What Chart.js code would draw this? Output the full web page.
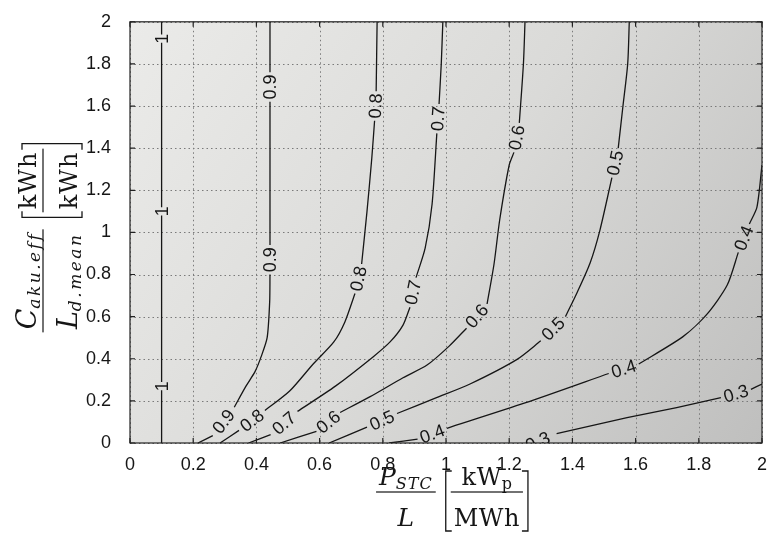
<!DOCTYPE html>
<html>
<head>
<meta charset="utf-8">
<script src="https://cdn.jsdelivr.net/npm/chart.js@4.4.0/dist/chart.umd.min.js"></script>
<style>
html, body { margin: 0; padding: 0; background: #fff; }
</style>
</head>
<body>
<canvas id="contourChart" width="777" height="548"></canvas>
<script>
// contour levels, same order as the point lists below
const levels = ['1', '0.9', '0.8', '0.7', '0.6', '0.5', '0.4', '0.3'];

// points [x, y], bottom to top.
// null = gap in the line where the level label is written
const c10 = [[0.1, 0], [0.1, 0.25], null, [0.1, 0.29], [0.1, 1.08], null, [0.1, 1.12], [0.1, 1.9], null, [0.1, 1.94], [0.1, 2]];
const c09 = [[0.215, 0], [0.262, 0.035], null, [0.33, 0.17], [0.367, 0.27], [0.396, 0.34], [0.415, 0.41], [0.434, 0.5], [0.442, 0.67], [0.443, 0.8], null, [0.443, 0.94], [0.443, 1.62], null, [0.443, 1.76], [0.443, 2]];
const c08 = [[0.285, 0], [0.345, 0.06], null, [0.427, 0.154], [0.506, 0.248], [0.579, 0.374], [0.645, 0.48], [0.68, 0.575], [0.712, 0.71], null, [0.733, 0.85], [0.75, 1.1], [0.765, 1.35], [0.774, 1.53], null, [0.779, 1.67], [0.782, 2]];
const c07 = [[0.375, 0], [0.445, 0.04], null, [0.53, 0.15], [0.65, 0.27], [0.77, 0.41], [0.823, 0.48], [0.864, 0.56], [0.886, 0.645], null, [0.905, 0.785], [0.934, 0.925], [0.956, 1.135], [0.971, 1.47], null, [0.978, 1.61], [0.985, 1.8], [0.99, 2]];
const c06 = [[0.475, 0], [0.59, 0.055], null, [0.665, 0.145], [0.76, 0.22], [0.864, 0.31], [0.94, 0.37], [1.01, 0.46], [1.065, 0.545], null, [1.13, 0.66], [1.152, 0.85], [1.17, 1.06], [1.2, 1.32], [1.215, 1.38], null, [1.232, 1.52], [1.245, 1.8], [1.25, 2]];
const c05 = [[0.63, 0], [0.75, 0.075], null, [0.845, 0.14], [0.97, 0.215], [1.076, 0.28], [1.225, 0.397], [1.3, 0.485], null, [1.378, 0.6], [1.415, 0.715], [1.456, 0.855], [1.487, 1.01], [1.525, 1.26], null, [1.545, 1.4], [1.56, 1.6], [1.575, 1.8], [1.58, 2]];
const c04 = [[0.82, 0], [0.91, 0.018], null, [1.003, 0.07], [1.25, 0.19], [1.515, 0.33], null, [1.61, 0.375], [1.75, 0.505], [1.826, 0.612], [1.89, 0.75], [1.925, 0.905], null, [1.96, 1.04], [1.984, 1.12], [2.0, 1.32]];
const c03 = [[1.23, -0.03], null, [1.35, 0.045], [1.573, 0.12], [1.73, 0.168], [1.87, 0.215], null, [1.965, 0.255], [2.0, 0.28]];
const contours = [c10, c09, c08, c07, c06, c05, c04, c03];

const xTickLabels = ['0', '0.2', '0.4', '0.6', '0.8', '1', '1.2', '1.4', '1.6', '1.8', '2'];
const yTickLabels = ['0', '0.2', '0.4', '0.6', '0.8', '1', '1.2', '1.4', '1.6', '1.8', '2'];

const ink = '#161616';
const tickFont = { family: '"Liberation Sans", Arial, sans-serif', size: 18 };

// background of the plot, grid and frame
const frame = {
    id: 'frame',
    beforeDraw(chart) {
        const { ctx, chartArea: a } = chart;
        ctx.save();
        ctx.fillStyle = '#fff';
        ctx.fillRect(0, 0, chart.width, chart.height);
        const g = ctx.createLinearGradient(a.left, a.top, a.right, a.bottom);
        g.addColorStop(0, '#ebebe9');
        g.addColorStop(0.5, '#dadad8');
        g.addColorStop(1, '#bfbfbe');
        ctx.fillStyle = g;
        ctx.fillRect(a.left, a.top, a.right - a.left, a.bottom - a.top);
        ctx.restore();
    },
    beforeDatasetsDraw(chart) {
        const { ctx, chartArea: a, scales: { x, y } } = chart;
        ctx.save();
        ctx.strokeStyle = '#7a7a7a';
        ctx.lineWidth = 1;
        ctx.setLineDash([1.5, 3]);
        ctx.beginPath();
        x.ticks.forEach(t => {
            const px = Math.round(x.getPixelForValue(t.value)) + 0.5;
            ctx.moveTo(px, a.top); ctx.lineTo(px, a.bottom);
        });
        y.ticks.forEach(t => {
            const py = Math.round(y.getPixelForValue(t.value)) + 0.5;
            ctx.moveTo(a.left, py); ctx.lineTo(a.right, py);
        });
        ctx.stroke();
        ctx.restore();
    },
    afterDatasetsDraw(chart) {
        const { ctx, chartArea: a, scales: { x, y } } = chart;
        ctx.save();
        ctx.strokeStyle = '#222';
        ctx.lineWidth = 1.2;
        ctx.strokeRect(a.left, a.top, a.right - a.left, a.bottom - a.top);
        ctx.beginPath();
        x.ticks.forEach(t => {
            const px = x.getPixelForValue(t.value);
            ctx.moveTo(px, a.bottom); ctx.lineTo(px, a.bottom - 5);
            ctx.moveTo(px, a.top); ctx.lineTo(px, a.top + 5);
        });
        y.ticks.forEach(t => {
            const py = y.getPixelForValue(t.value);
            ctx.moveTo(a.left, py); ctx.lineTo(a.left + 5, py);
            ctx.moveTo(a.right, py); ctx.lineTo(a.right - 5, py);
        });
        ctx.stroke();

        // level labels, placed in the gaps and turned along the line
        ctx.beginPath();
        ctx.rect(a.left, a.top, a.right - a.left, a.bottom - a.top);
        ctx.clip();
        ctx.font = '18px "Liberation Sans", Arial, sans-serif';
        ctx.fillStyle = ink;
        ctx.textAlign = 'center';
        ctx.textBaseline = 'middle';
        contours.forEach((pts, k) => {
            pts.forEach((p, i) => {
                if (p !== null || i === 0 || i === pts.length - 1) return;
                const p0 = pts[i - 1], p1 = pts[i + 1];
                const ax = x.getPixelForValue(p0[0]), ay = y.getPixelForValue(p0[1]);
                const bx = x.getPixelForValue(p1[0]), by = y.getPixelForValue(p1[1]);
                let ang = Math.atan2(by - ay, bx - ax);
                if (ang > Math.PI / 2) ang -= Math.PI;
                if (ang < -Math.PI / 2) ang += Math.PI;
                ctx.save();
                ctx.translate((ax + bx) / 2, (ay + by) / 2);
                ctx.rotate(ang);
                ctx.fillText(levels[k], 0, 1);
                ctx.restore();
            });
        });
        ctx.restore();
    }
};

// axis titles written as fractions, like the LaTeX ones
function fontOf(r) {
    return (r.i ? 'italic ' : '') + r.s + 'px "DejaVu Serif", "Liberation Serif", serif';
}
function runWidth(ctx, run) {
    return run.reduce((w, r) => {
        ctx.font = fontOf(r);
        return w + ctx.measureText(r.t).width + (r.sp || 0) * r.t.length;
    }, 0);
}
function drawRun(ctx, run, x, y) {
    run.forEach(r => {
        ctx.font = fontOf(r);
        for (const ch of r.t) {
            ctx.fillText(ch, x, y + (r.d || 0));
            x += ctx.measureText(ch).width + (r.sp || 0);
        }
    });
}
function fracWidth(ctx, num, den) {
    return Math.max(runWidth(ctx, num), runWidth(ctx, den)) + 6;
}
function drawFrac(ctx, num, den, x, bar) {
    const w = fracWidth(ctx, num, den);
    drawRun(ctx, num, x + (w - runWidth(ctx, num)) / 2, bar - 7);
    drawRun(ctx, den, x + (w - runWidth(ctx, den)) / 2, bar + 34);
    ctx.fillRect(x, bar - 0.6, w, 1.2);
    return w;
}
function drawBracket(ctx, x, bar, dir) {
    ctx.beginPath();
    ctx.moveTo(x + 6 * dir, bar - 21);
    ctx.lineTo(x, bar - 21);
    ctx.lineTo(x, bar + 39);
    ctx.lineTo(x + 6 * dir, bar + 39);
    ctx.stroke();
}
function drawTitle(ctx, cx, bar, n1, d1, n2, d2, gap) {
    const w1 = fracWidth(ctx, n1, d1), w2 = fracWidth(ctx, n2, d2);
    const total = w1 + gap + 5 + w2 + 5;
    let x = cx - total / 2;
    drawFrac(ctx, n1, d1, x, bar);
    x += w1 + gap;
    drawBracket(ctx, x, bar, 1);
    x += 5;
    drawFrac(ctx, n2, d2, x, bar);
    x += w2 + 5;
    drawBracket(ctx, x, bar, -1);
}
const axisTitles = {
    id: 'axisTitles',
    afterDraw(chart) {
        const { ctx, chartArea: a } = chart;
        ctx.save();
        ctx.fillStyle = ink;
        ctx.strokeStyle = ink;
        ctx.lineWidth = 1.3;
        ctx.textBaseline = 'alphabetic';
        drawTitle(ctx, (a.left + a.right) / 2 + 6, 492,
            [{ t: 'P', s: 25, i: true }, { t: 'STC', s: 16, i: true, d: 4, sp: 1 }],
            [{ t: 'L', s: 25, i: true }],
            [{ t: 'kW', s: 24, sp: 0.5 }, { t: 'p', s: 16, d: 4 }],
            [{ t: 'MWh', s: 24, sp: 0.5 }], 10);
        ctx.translate(43, 238);
        ctx.rotate(-Math.PI / 2);
        drawTitle(ctx, 0, 0,
            [{ t: 'C', s: 27, i: true }, { t: 'aku.eff', s: 17, i: true, d: 4, sp: 2.5 }],
            [{ t: 'L', s: 27, i: true }, { t: 'd.mean', s: 17, i: true, d: 4, sp: 2.5 }],
            [{ t: 'kWh', s: 24, sp: 1 }],
            [{ t: 'kWh', s: 24, sp: 1 }], 12);
        ctx.restore();
    }
};

const datasets = contours.map((pts, i) => ({
    label: levels[i],
    data: pts.map((p, j) => p ? { x: p[0], y: p[1] } : { x: pts[j - 1][0], y: null }),
    showLine: true,
    spanGaps: false,
    borderColor: ink,
    borderWidth: 1.3,
    pointRadius: 0,
    tension: 0.25
}));

new Chart(document.getElementById('contourChart'), {
    type: 'scatter',
    data: { datasets: datasets },
    options: {
        responsive: false,
        animation: false,
        layout: { padding: { top: 15, right: 15, left: 0, bottom: 0 } },
        plugins: { legend: { display: false }, tooltip: { enabled: false } },
        scales: {
            x: {
                type: 'linear', min: 0, max: 2,
                afterFit: s => { s.height = 105; },
                grid: { display: false },
                border: { display: false },
                ticks: {
                    stepSize: 0.2, padding: 3, color: ink, font: tickFont,
                    callback: (v, i) => xTickLabels[i]
                }
            },
            y: {
                type: 'linear', min: 0, max: 2,
                afterFit: s => { s.width = 130; },
                grid: { display: false },
                border: { display: false },
                ticks: {
                    stepSize: 0.2, padding: 11, color: ink, font: tickFont,
                    callback: (v, i) => yTickLabels[i]
                }
            }
        }
    },
    plugins: [frame, axisTitles]
});
</script>
</body>
</html>
